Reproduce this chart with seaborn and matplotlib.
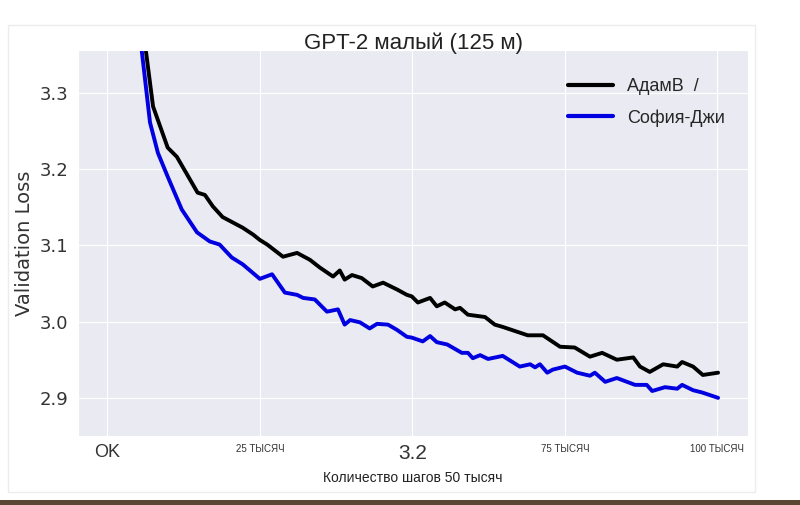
import matplotlib
matplotlib.use("Agg")
import matplotlib.pyplot as plt
import seaborn as sns
import pandas as pd
from matplotlib.patches import Rectangle

# steps in thousands, validation loss
adam_steps = [5.6, 7.5, 9.9, 11.4, 14.8, 16.0, 17.3, 18.9, 22.2, 23.9, 25.0, 26.2,
              28.8, 31.1, 33.2, 34.8, 37.0, 38.1, 38.9, 40.1, 41.7, 43.5, 45.2,
              47.5, 49.1, 49.9, 50.9, 52.9, 54.0, 55.3, 57.0, 57.8, 59.1, 61.9,
              63.5, 64.8, 68.9, 71.4, 74.2, 76.6, 79.1, 81.1, 83.5, 86.2, 87.3,
              88.9, 91.1, 93.4, 94.2, 96.0, 97.6, 100.1]
adam_loss = [3.400, 3.282, 3.228, 3.216, 3.169, 3.166, 3.151, 3.137, 3.123, 3.114,
             3.107, 3.101, 3.085, 3.090, 3.081, 3.071, 3.059, 3.067, 3.055, 3.061,
             3.057, 3.046, 3.051, 3.042, 3.035, 3.033, 3.025, 3.031, 3.020, 3.025,
             3.016, 3.018, 3.009, 3.006, 2.996, 2.993, 2.982, 2.982, 2.967, 2.966,
             2.954, 2.959, 2.950, 2.953, 2.941, 2.934, 2.944, 2.941, 2.947, 2.941,
             2.930, 2.933]

sophia_steps = [5.0, 7.0, 8.3, 9.9, 12.2, 14.7, 16.8, 18.4, 20.4, 22.2, 25.0, 27.0,
                29.1, 31.1, 32.1, 34.0, 36.0, 37.8, 38.9, 39.8, 41.4, 43.0, 44.2,
                46.0, 47.5, 49.1, 49.9, 51.7, 52.9, 54.0, 55.7, 58.1, 59.1, 59.9,
                61.1, 62.4, 64.8, 67.6, 69.3, 70.1, 70.9, 72.1, 73.0, 75.0, 77.0,
                79.1, 79.9, 81.6, 83.5, 86.5, 88.4, 89.3, 91.4, 93.4, 94.2, 96.0,
                97.5, 100.1]
sophia_loss = [3.400, 3.261, 3.221, 3.190, 3.147, 3.117, 3.105, 3.101, 3.084, 3.075,
               3.056, 3.062, 3.038, 3.035, 3.031, 3.029, 3.013, 3.016, 2.996, 3.002,
               2.999, 2.991, 2.997, 2.996, 2.989, 2.980, 2.979, 2.974, 2.981, 2.973,
               2.970, 2.959, 2.959, 2.952, 2.956, 2.951, 2.955, 2.941, 2.944, 2.940,
               2.944, 2.933, 2.937, 2.941, 2.933, 2.929, 2.933, 2.921, 2.926, 2.917,
               2.917, 2.909, 2.914, 2.912, 2.917, 2.910, 2.907, 2.900]

xtick_pos = [0, 25000, 50000, 75000, 100000]
xtick_labels = ['OK', '25 ТЫСЯЧ', '3.2', '75 ТЫСЯЧ', '100 ТЫСЯЧ']
xtick_sizes = [13, 7, 15, 7, 7]

df = pd.concat([
    pd.DataFrame({'step': [s * 1000 for s in adam_steps], 'loss': adam_loss, 'opt': 'АдамВ  /'}),
    pd.DataFrame({'step': [s * 1000 for s in sophia_steps], 'loss': sophia_loss, 'opt': 'София-Джи'}),
])

sns.set_style('darkgrid')
plt.rcParams['font.family'] = ['Liberation Sans', 'DejaVu Sans']

fig = plt.figure(figsize=(8, 5.05), dpi=100)
fig.patches.append(Rectangle((8 / 800, 13 / 505), 747 / 800, 467 / 505, transform=fig.transFigure,
                             facecolor='white', edgecolor='#ececec', lw=1, zorder=-5))
fig.patches.append(Rectangle((0, 0), 1, 5 / 505, transform=fig.transFigure,
                             facecolor='#5a4632', edgecolor='none', zorder=-5))
ax = fig.add_axes([78 / 800, 69 / 505, 670 / 800, 386 / 505])

sns.lineplot(data=df, x='step', y='loss', hue='opt', palette=['black', '#0000e0'],
             linewidth=2.8, ax=ax, sort=False, estimator=None)

ax.set_xlim(-4800, 105000)
ax.set_ylim(2.85, 3.356)
ax.set_yticks([2.9, 3.0, 3.1, 3.2, 3.3])
ax.set_yticklabels(['2.9', '3.0', '3.1', '3.2', '3.3'], family='DejaVu Sans', fontsize=13, color='#333333')
ax.set_xticks(xtick_pos)
ax.set_xticklabels(xtick_labels, color='#333333')
for lab, sz in zip(ax.get_xticklabels(), xtick_sizes):
    lab.set_fontsize(sz)
ax.tick_params(axis='x', pad=2)

ax.set_title('GPT-2 малый (125 м)', fontsize=16, color='#222222', pad=1)
ax.set_xlabel('Количество шагов 50 тысяч', fontsize=10, color='#222222', labelpad=6)
ax.set_ylabel('Validation Loss', family='DejaVu Sans', fontsize=14, color='#333333', labelpad=4)

leg = ax.legend(loc='upper right', frameon=False, fontsize=13, handlelength=2.5,
                labelspacing=0.8, bbox_to_anchor=(0.99, 0.97))
for line in leg.get_lines():
    line.set_linewidth(3)

fig.savefig('out.png', dpi=100, facecolor='white')
